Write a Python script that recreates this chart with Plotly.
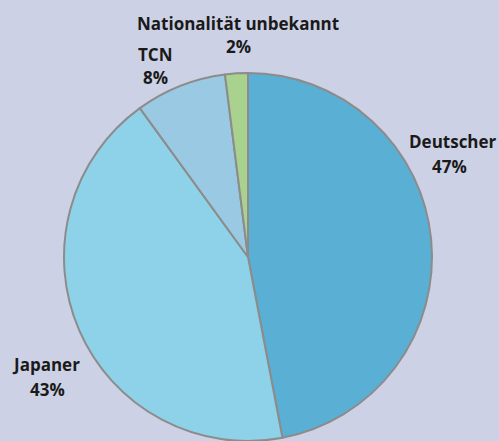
import plotly.graph_objects as go

# Staatsangehörigkeit – Anteile in Prozent
labels = ["Deutscher", "Japaner", "TCN", "Nationalität unbekannt"]
values = [47, 43, 8, 2]
colors = ["#5aafd4", "#8dd2e8", "#9acae3", "#a9d28f"]

W, H = 499, 441
BG = "#cdd1e5"

# Pixel centres for the two text lines (name, percentage) of each slice label
name_pos = [(453, 141), (46, 364), (155, 54), (238, 24)]
pct_pos = [(449, 166), (47, 389), (155, 78), (238, 47)]

# Pie geometry in pixels
cx, cy, r = 248, 257, 184

fig = go.Figure(
    go.Pie(
        labels=labels,
        values=values,
        sort=False,
        direction="clockwise",
        rotation=0,
        marker=dict(colors=colors, line=dict(color="#8c8c8c", width=2)),
        textinfo="none",
        hoverinfo="label+percent",
        domain=dict(
            x=[(cx - r) / W, (cx + r) / W],
            y=[1 - (cy + r) / H, 1 - (cy - r) / H],
        ),
        showlegend=False,
    )
)

font = dict(family="Open Sans, Lato, sans-serif", size=17, color="#1a1a1a")
annotations = []
for lab, val, (nx, ny), (px, py) in zip(labels, values, name_pos, pct_pos):
    annotations.append(dict(x=nx / W, y=1 - ny / H, xref="paper", yref="paper",
                            text=f"<b>{lab}</b>", showarrow=False,
                            xanchor="center", yanchor="middle", font=font))
    annotations.append(dict(x=px / W, y=1 - py / H, xref="paper", yref="paper",
                            text=f"<b>{val}%</b>", showarrow=False,
                            xanchor="center", yanchor="middle", font=font))

fig.update_layout(
    width=W,
    height=H,
    margin=dict(l=0, r=0, t=0, b=0),
    paper_bgcolor=BG,
    plot_bgcolor=BG,
    annotations=annotations,
)

fig.write_html("out.html")
